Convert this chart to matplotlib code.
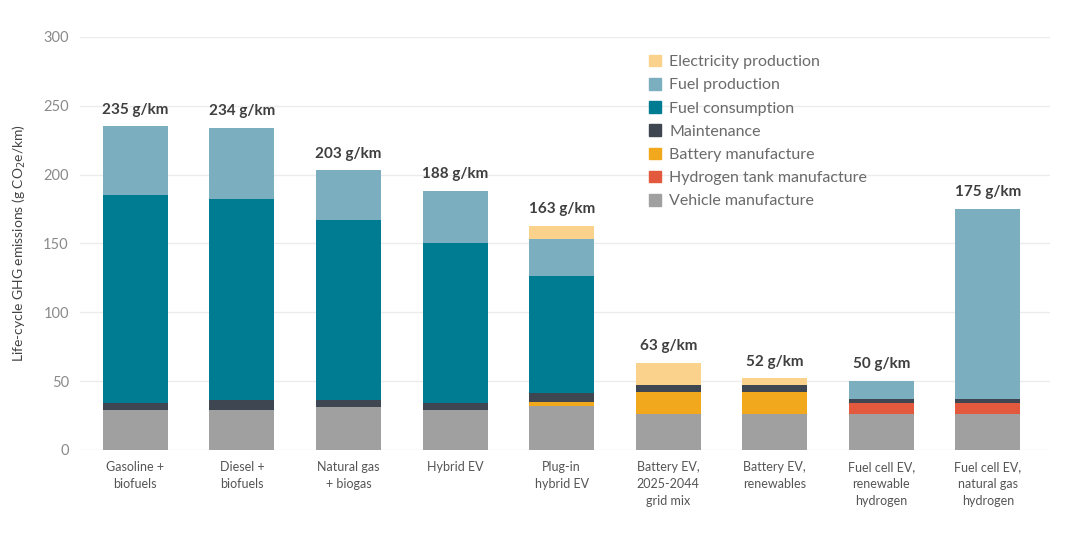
import numpy as np
import matplotlib.pyplot as plt
from matplotlib.patches import Patch

plt.rcParams['font.family'] = ['Lato', 'DejaVu Sans']

# Data
categories = ['Gasoline +\nbiofuels', 'Diesel +\nbiofuels', 'Natural gas\n+ biogas', 'Hybrid EV',
              'Plug-in\nhybrid EV', 'Battery EV,\n2025-2044\ngrid mix', 'Battery EV,\nrenewables',
              'Fuel cell EV,\nrenewable\nhydrogen', 'Fuel cell EV,\nnatural gas\nhydrogen']
vehicle_manufacture = [29, 29, 31, 29, 32, 26, 26, 26, 26]
hydrogen_tank = [0, 0, 0, 0, 0, 0, 0, 8, 8]
battery_manufacture = [0, 0, 0, 0, 3, 16, 16, 0, 0]
maintenance = [5, 7, 5, 5, 6, 5, 5, 3, 3]
fuel_consumption = [151, 146, 131, 116, 85, 0, 0, 0, 0]
fuel_production = [50, 52, 36, 38, 27, 0, 0, 13, 138]
electricity_production = [0, 0, 0, 0, 10, 16, 5, 0, 0]
totals = [235, 234, 203, 188, 163, 63, 52, 50, 175]

series = [
    ('Vehicle manufacture', vehicle_manufacture, '#a0a0a0'),
    ('Hydrogen tank manufacture', hydrogen_tank, '#e3593d'),
    ('Battery manufacture', battery_manufacture, '#f2a81d'),
    ('Maintenance', maintenance, '#3d4651'),
    ('Fuel consumption', fuel_consumption, '#007c92'),
    ('Fuel production', fuel_production, '#7bafc0'),
    ('Electricity production', electricity_production, '#fad28c'),
]

fig = plt.figure(figsize=(10.8, 5.35), dpi=100)
ax = fig.add_axes([0.074, 0.159, 0.898, 0.772])

x = np.arange(len(categories))
bottom = np.zeros(len(categories))
for name, vals, col in series:
    vals = np.array(vals, dtype=float)
    ax.bar(x, vals, bottom=bottom, width=0.61, color=col, zorder=3)
    bottom += vals

for xi, t in zip(x, totals):
    ax.annotate(f'{t} g/km', (xi, t), xytext=(0, 7), textcoords='offset points',
                ha='center', va='bottom', fontsize=11, fontweight='bold', color='#3f3f3f')

ax.set_ylim(0, 300)
ax.set_xlim(-0.52, 8.58)
ax.set_yticks(range(0, 301, 50))
ax.set_xticks(x)
ax.set_xticklabels(categories, fontsize=9, color='#555555', linespacing=1.5)
ax.tick_params(axis='y', labelsize=10.5, labelcolor='#8a8a8a', length=0, pad=8)
ax.tick_params(axis='x', length=0, pad=8)
ax.grid(axis='y', color='#ececec', linewidth=1, zorder=0)
for s in ax.spines.values():
    s.set_visible(False)

ax.set_ylabel('Life-cycle GHG emissions (g CO$_2$e/km)', fontsize=10, color='#444444', labelpad=11)

handles = [Patch(color=col, label=name) for name, vals, col in series[::-1]]
leg = ax.legend(handles=handles, loc='upper left', bbox_to_anchor=(0.577, 0.98), frameon=False,
                fontsize=11.5, handlelength=0.75, handleheight=0.75, handletextpad=0.5,
                labelspacing=0.55, borderaxespad=0.2)
for txt in leg.get_texts():
    txt.set_color('#6a6a6a')

fig.savefig('out.png', dpi=100)
